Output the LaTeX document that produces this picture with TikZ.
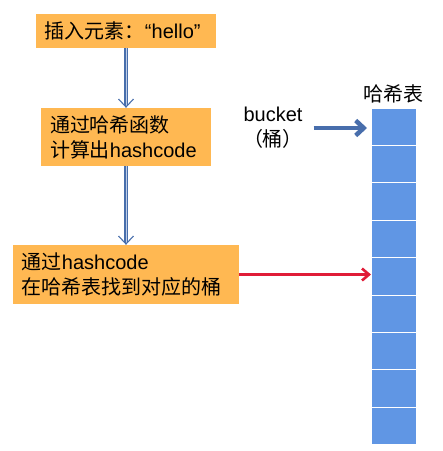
\documentclass[tikz,border=0pt]{standalone}
\usepackage{fontspec}
\setmainfont{Liberation Sans}
\newfontfamily\cjk{Noto Sans CJK SC}
\usetikzlibrary{arrows.meta,positioning}
\definecolor{boxorange}{RGB}{255,184,82}
\definecolor{cellblue}{RGB}{96,150,228}
\definecolor{flowblue}{RGB}{72,110,172}
\definecolor{flowlight}{RGB}{190,205,230}
\definecolor{findred}{RGB}{224,28,56}
\tikzset{
    step box/.style={fill=boxorange, inner xsep=9pt, inner ysep=3pt, align=left,
        font=\fontsize{20}{25}\selectfont},
    cell/.style={draw=white, line width=1pt, fill=cellblue, minimum width=45pt,
        minimum height=37.4pt, inner sep=0pt, outer sep=0pt},
    flow/.style={draw=flowblue, double=flowlight, double distance=1pt, line width=1.1pt,
        -{Straight Barb[length=8pt, width=15pt]}},
}
\begin{document}
\begin{tikzpicture}[x=1pt, y=-1pt]
    \useasboundingbox (0,0) rectangle (443,451);
    \node (insert) [step box, text width=162pt, minimum height=34pt] at (126,31) {{\cjk 插入元素：}“hello”};
    \node (hash) [step box, text width=152pt, minimum height=58pt] at (126,137) {{\cjk 通过哈希函数}\\{\cjk 计算出}hashcode};
    \node (find) [step box, text width=208pt, minimum height=59pt] at (126,274.5) {{\cjk 通过}hashcode\\{\cjk 在哈希表找到对应的桶}};

    \foreach \i in {0,...,8}
        \node (cell\i) [cell] at (393.5, {126.7+37.4*\i}) {};
    \node (table) [above=1pt of cell0, font=\fontsize{20}{25}\selectfont\cjk] {哈希表};
    \node (bucket) [align=center, font=\fontsize{20}{25}\selectfont] at (273,128) {bucket\\{\cjk （桶）}};

    \draw[flow] (insert.south) -- (hash.north);
    \draw[flow] (hash.south) -- (find.north);
    \draw[draw=findred, line width=2.6pt, -{Straight Barb[length=7pt, width=12pt]}] (find.east) -- (find.east -| cell4.west);
    \draw[draw=flowblue, line width=4.5pt, shorten <=7pt, shorten >=4pt, -{Straight Barb[length=8pt, width=15pt]}] (bucket.east) -- (bucket.east -| cell0.west);
\end{tikzpicture}
\end{document}
